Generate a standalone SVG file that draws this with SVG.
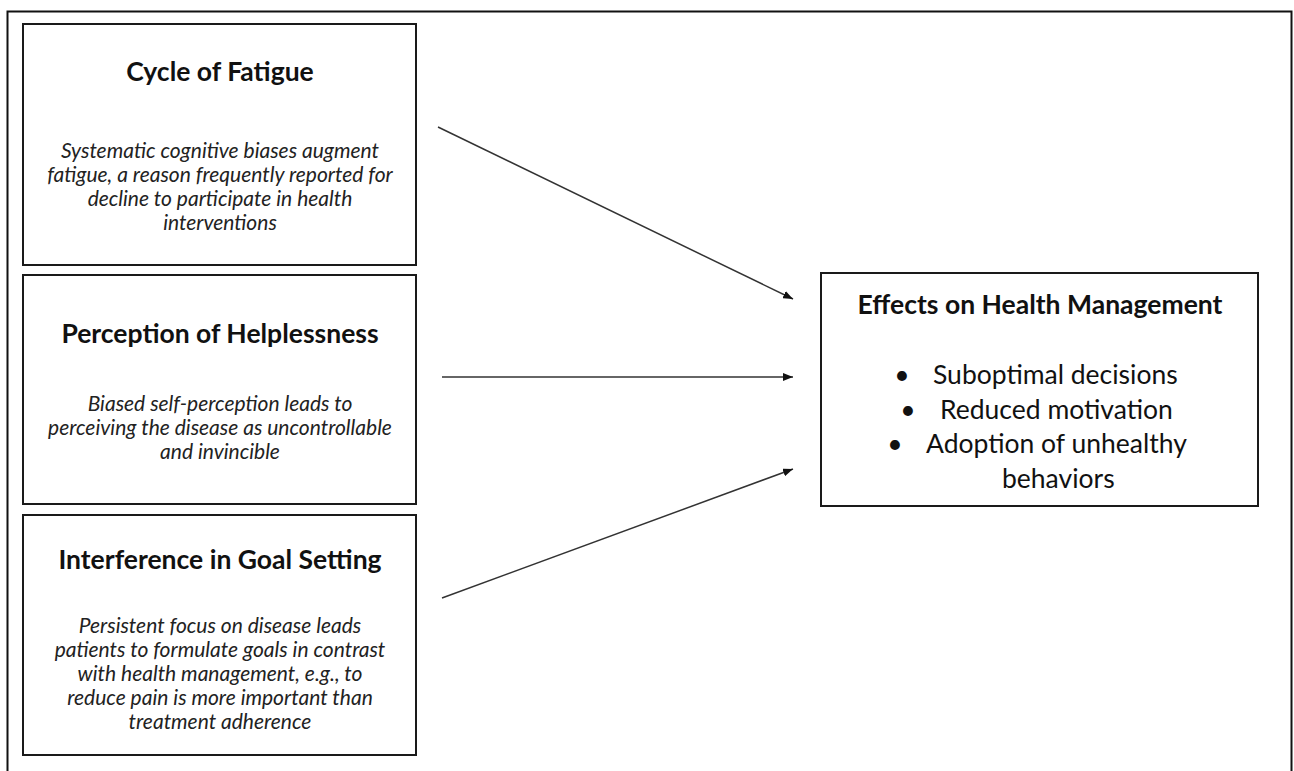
<svg xmlns="http://www.w3.org/2000/svg" width="1294" height="771" viewBox="0 0 1294 771">
<style>
.box{fill:#fff;stroke:#1a1a1a;stroke-width:2}
.t{font-family:Lato,"Liberation Sans",sans-serif;font-weight:bold;font-size:26.5px;fill:#111;text-anchor:middle}
.d{font-family:Lato,"Liberation Sans",sans-serif;font-style:italic;font-size:21px;fill:#222;text-anchor:middle}
.b{font-family:Lato,"Liberation Sans",sans-serif;font-size:26.5px;fill:#111}
.c{stroke:#333;stroke-width:1.5;fill:none;marker-end:url(#ah)}
</style>
<defs>
<marker id="ah" markerWidth="10" markerHeight="8" refX="10" refY="4" orient="auto" markerUnits="userSpaceOnUse">
<path d="M0,0 L10,4 L0,8 z" fill="#111"/>
</marker>
</defs>
<rect x="0" y="0" width="1294" height="771" fill="#fff"/>
<rect x="7.5" y="11.5" width="1284" height="780" fill="none" stroke="#111" stroke-width="2"/>
<g id="fatigue">
<rect class="box" x="23" y="24" width="393" height="241"/>
<text class="t" x="220" y="81">Cycle of Fatigue</text>
<text class="d" x="220" y="158">Systematic cognitive biases augment</text>
<text class="d" x="220" y="182">fatigue, a reason frequently reported for</text>
<text class="d" x="220" y="206">decline to participate in health</text>
<text class="d" x="220" y="230">interventions</text>
</g>
<g id="helplessness">
<rect class="box" x="23" y="275" width="393" height="229"/>
<text class="t" x="220" y="343">Perception of Helplessness</text>
<text class="d" x="220" y="411">Biased self-perception leads to</text>
<text class="d" x="220" y="435">perceiving the disease as uncontrollable</text>
<text class="d" x="220" y="459">and invincible</text>
</g>
<g id="goal">
<rect class="box" x="23" y="515" width="393" height="240"/>
<text class="t" x="220" y="569">Interference in Goal Setting</text>
<text class="d" x="220" y="633">Persistent focus on disease leads</text>
<text class="d" x="220" y="657">patients to formulate goals in contrast</text>
<text class="d" x="220" y="681">with health management, e.g., to</text>
<text class="d" x="220" y="705">reduce pain is more important than</text>
<text class="d" x="220" y="729">treatment adherence</text>
</g>
<g id="effects">
<rect class="box" x="821" y="273" width="437" height="233"/>
<text class="t" x="1040" y="314">Effects on Health Management</text>
<text class="b" x="902" y="384" text-anchor="middle">•</text>
<text class="b" x="933" y="384">Suboptimal decisions</text>
<text class="b" x="908" y="419" text-anchor="middle">•</text>
<text class="b" x="940" y="419">Reduced motivation</text>
<text class="b" x="895" y="453" text-anchor="middle">•</text>
<text class="b" x="926" y="453">Adoption of unhealthy</text>
<text class="b" x="1002" y="488">behaviors</text>
</g>
<g id="connectors">
<line class="c" x1="438" y1="127" x2="793" y2="299"/>
<line class="c" x1="442" y1="377" x2="793" y2="377"/>
<line class="c" x1="442" y1="598" x2="793" y2="469"/>
</g>
</svg>
